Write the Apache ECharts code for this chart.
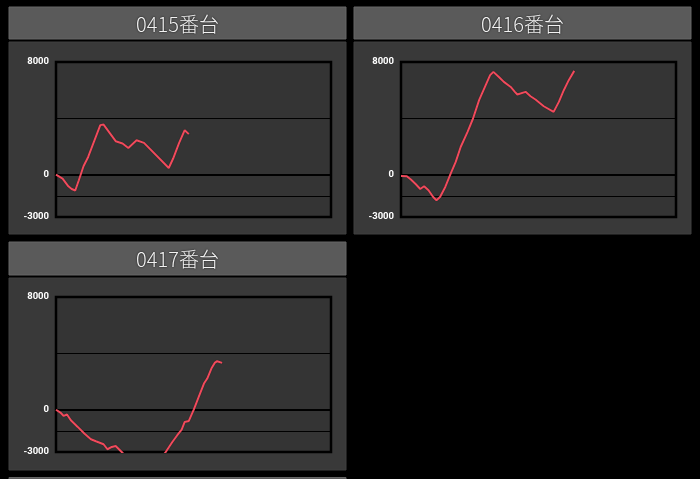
<!DOCTYPE html>
<html>
<head>
<meta charset="utf-8">
<script src="https://cdn.jsdelivr.net/npm/echarts@6/dist/echarts.min.js"></script>
<style>
html,body{margin:0;padding:0;background:#000;}
#c{width:700px;height:479px;}
</style>
</head>
<body>
<div id="c"></div>
<script>
// ---- data ----
var titles = ['0415番台', '0416番台', '0417番台'];
var yTickLabels = [8000, 0, -3000];
var gridLineValues = [4000, -1500];

var xs0415 = [0, 2.4, 4.5, 5.7, 7.0, 8.3, 10.0, 11.7, 16.1, 17.3, 21.7, 24.2, 26.3, 29.3, 32.0, 41.0, 42.6, 44.7, 46.8, 48.3];
var ys0415 = [0, -270, -820, -1010, -1120, -390, 600, 1260, 3520, 3560, 2380, 2220, 1900, 2450, 2260, 480, 1150, 2220, 3160, 2880];

var xs0416 = [0, 0.6, 2.1, 3.6, 5.4, 7.0, 8.4, 10.0, 11.7, 12.9, 14.2, 16.1, 18.1, 19.9, 21.7, 24.2, 26.2, 28.4, 30.8, 32.4, 33.6, 35.6, 37.4, 39.9, 41.4, 42.3, 45.3, 47.1, 48.9, 51.9, 55.5, 57.4, 59.2, 61.0, 63.0];
var ys0416 = [-90, -40, -110, -340, -680, -1010, -820, -1100, -1580, -1810, -1580, -870, 90, 910, 1970, 3040, 3990, 5290, 6360, 7070, 7300, 6940, 6590, 6230, 5880, 5690, 5880, 5570, 5340, 4860, 4460, 5170, 6000, 6710, 7370];

var xs0417 = [0, 1.6, 2.8, 4.0, 5.4, 7.9, 10.3, 12.7, 14.5, 17.3, 18.7, 20.3, 21.7, 23.9, 27.2, 32.6, 37.3, 39.9, 42.3, 44.1, 45.7, 46.8, 48.3, 50.1, 51.9, 53.8, 55.0, 56.5, 57.7, 58.6, 60.4];
var ys0417 = [0, -200, -440, -340, -745, -1220, -1690, -2095, -2237, -2450, -2805, -2640, -2570, -3000, -3700, -4300, -3700, -3000, -2290, -1810, -1406, -866, -795, 14, 909, 1860, 2215, 2925, 3323, 3444, 3323];

var seriesX = [xs0415, xs0416, xs0417];
var seriesY = [ys0415, ys0416, ys0417];

// ---- layout ----
var panels = [
  {x: 9, y: 7, hh: 32, by: 42, bh: 192, gl: 56, gt: 62},
  {x: 354, y: 7, hh: 32, by: 42, bh: 192, gl: 401, gt: 62},
  {x: 9, y: 242, hh: 33, by: 278, bh: 192, gl: 56, gt: 297}
];
var PW = 337;

var chart = echarts.init(document.getElementById('c'), null, {renderer: 'canvas'});

var graphics = [];
panels.forEach(function (p, i) {
  graphics.push({type: 'rect', z: -10, shape: {x: p.x, y: p.y, width: PW, height: p.hh},
    style: {fill: '#5a5a5a', stroke: '#666', lineWidth: 1}});
  graphics.push({type: 'rect', z: -10, shape: {x: p.x, y: p.by, width: PW, height: p.bh},
    style: {fill: '#393939', stroke: '#404040', lineWidth: 1}});
  graphics.push({type: 'text', z: 10, x: p.x + PW / 2, y: p.y + p.hh / 2 + 1,
    style: {text: titles[i], fill: '#f2f2f2', font: '300 20px "Noto Sans CJK JP", "Noto Sans", sans-serif',
      align: 'center', verticalAlign: 'middle', textShadowColor: 'rgba(0,0,0,0.9)', textShadowBlur: 2}});
});
// next panel header peeking at the bottom
graphics.push({type: 'rect', z: -10, shape: {x: 9, y: 477.5, width: PW, height: 10},
  style: {fill: '#5a5a5a', stroke: '#666', lineWidth: 1}});

var grids = [], xAxes = [], yAxes = [], series = [];
panels.forEach(function (p, i) {
  grids.push({left: p.gl, top: p.gt, width: 275, height: 155, show: true,
    backgroundColor: '#343434', borderColor: '#000', borderWidth: 2.5, z: 1});
  xAxes.push({type: 'value', gridIndex: i, min: 0, max: 100, show: false});
  yAxes.push({type: 'value', gridIndex: i, min: -3000, max: 8000, interval: 1000,
    axisLine: {show: false}, axisTick: {show: false}, splitLine: {show: false},
    axisLabel: {color: '#fff', fontSize: 9.5, fontWeight: 'bold', fontFamily: 'Roboto, sans-serif', margin: 7,
      formatter: function (v) { return yTickLabels.indexOf(v) >= 0 ? String(v) : ''; }}});
  var pts = seriesX[i].map(function (x, k) { return [x, seriesY[i][k]]; });
  var ml = gridLineValues.map(function (v) { return {yAxis: v, lineStyle: {color: '#000', width: 1, type: 'solid'}}; });
  ml.push({yAxis: 0, lineStyle: {color: '#000', width: 2, type: 'solid'}});
  series.push({type: 'line', xAxisIndex: i, yAxisIndex: i, data: pts, symbol: 'none', clip: true,
    lineStyle: {color: '#f24a5c', width: 2, shadowColor: 'rgba(0,0,0,0.5)', shadowBlur: 1},
    animation: false, z: 5,
    markLine: {silent: true, symbol: 'none', label: {show: false}, animation: false, data: ml, z: 3}});
});

chart.setOption({
  backgroundColor: '#000',
  animation: false,
  graphic: graphics,
  grid: grids,
  xAxis: xAxes,
  yAxis: yAxes,
  series: series
});
</script>
</body>
</html>
